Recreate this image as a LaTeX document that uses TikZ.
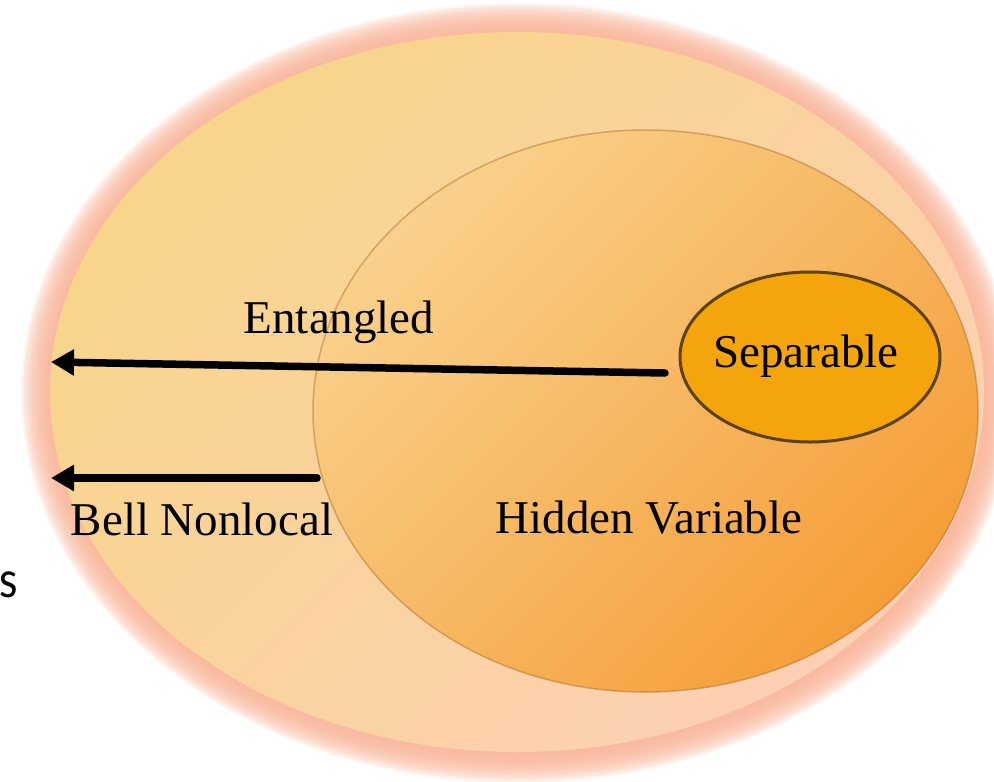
\documentclass[tikz,border=0pt]{standalone}
\usepackage{fontspec}
\setmainfont{Liberation Serif}
\newfontfamily\sansfam{Lato}
\usetikzlibrary{shapes.geometric,arrows.meta}
\definecolor{glow}{HTML}{F8B295}
\definecolor{outerA}{HTML}{F8D58A}
\definecolor{outerB}{HTML}{FDD0B4}
\definecolor{innerA}{HTML}{F9D18C}
\definecolor{innerB}{HTML}{F59E38}
\definecolor{innerEdge}{HTML}{A8682A}
\definecolor{sepFill}{HTML}{F3A50B}
\definecolor{sepEdge}{HTML}{5E4212}
\begin{document}
\begin{tikzpicture}[x=1pt,y=-1pt,
  lab/.style={font=\fontsize{47}{56}\selectfont, anchor=base, inner sep=0pt},
  arr/.style={line width=7.5pt, line cap=round, -{Triangle[length=23pt,width=25pt]}},
  blob/.style={ellipse, inner sep=0pt, outer sep=0pt}
]
\useasboundingbox (0,0) rectangle (994,782);
\foreach \k in {30,28,...,2} {
  \fill[glow, opacity=0.14] (518,393) ellipse [x radius=467+\k, y radius=360+\k];
}
\node[blob, minimum width=934pt, minimum height=720pt, top color=outerA, bottom color=outerB, shading angle=45] (outer) at (517,392) {};
\node[blob, minimum width=665pt, minimum height=562pt, top color=innerA, bottom color=innerB, shading angle=45, draw=innerEdge, draw opacity=0.45, line width=1.5pt] (inner) at (645.5,411) {};
\node[blob, minimum width=260pt, minimum height=170pt, fill=sepFill, draw=sepEdge, line width=3pt] (sep) at (810,357) {};

\node[lab] (entl) at (339,333) {Entangled};
\node[lab] (sepl) at (806,367) {Separable};
\node[lab] (hidl) at (649,533) {Hidden Variable};
\node[lab] (belll) at (202,535) {Bell Nonlocal};
\node[font=\sansfam\fontsize{50}{60}\selectfont, anchor=base west, inner sep=0pt, xscale=0.85] (sfrag) at (-1,597) {s};

\coordinate (entS) at (665,373);
\coordinate (entT) at (51,362);
\coordinate (bellS) at (317,478);
\coordinate (bellT) at (51,478);
\draw[arr] (entS) -- (entT);
\draw[arr] (bellS) -- (bellT);
\end{tikzpicture}
\end{document}
